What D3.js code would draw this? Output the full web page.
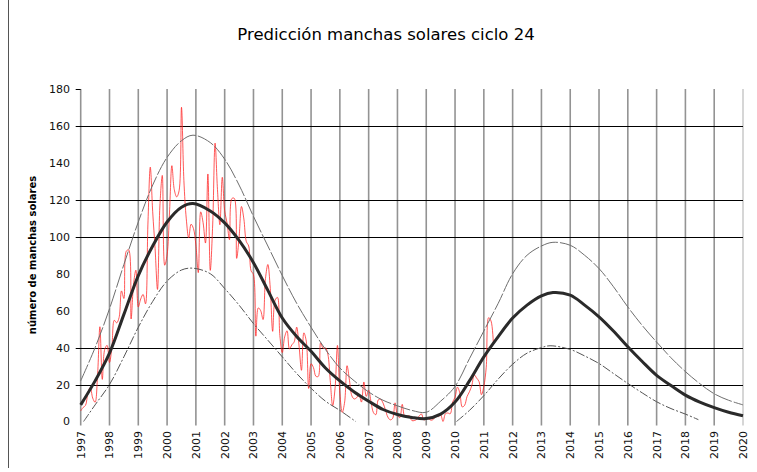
<!DOCTYPE html>
<html>
<head>
<meta charset="utf-8">
<script src="https://cdn.jsdelivr.net/npm/d3@7"></script>
<style>
  body { margin: 0; background: #fff; }
  svg { display: block; }
</style>
</head>
<body>
<svg id="chart" width="757" height="472"></svg>
<script>
// prediccion suavizada (linea negra gruesa)
var smoothYears = [1997, 1997.5, 1998, 1998.5, 1999, 1999.5, 2000, 2000.5, 2000.9, 2001.5, 2002, 2002.5,
  2003, 2003.5, 2004, 2004.5, 2005, 2005.5, 2006, 2006.5, 2007, 2007.5, 2008, 2008.5, 2009, 2009.5,
  2010, 2010.5, 2011, 2011.5, 2012, 2012.5, 2013, 2013.4, 2014, 2014.5, 2015, 2015.5, 2016, 2016.5,
  2017, 2017.5, 2018, 2018.5, 2019, 2019.5, 2020];
var smoothValues = [9, 22, 37, 58, 79, 95, 108, 116, 118, 114, 107.5, 98,
  86, 71, 56, 46, 38, 29, 22, 16, 11, 6.5, 3.8, 2.2, 1.6, 4,
  10.5, 22, 35, 46, 56, 63, 68, 69.8, 68.4, 63, 56.7, 49, 40.5, 32.5,
  25, 19.5, 14.3, 10.5, 7.5, 5, 3.1];

// limite superior
var highYears = [1997, 1997.5, 1998, 1998.5, 1999, 1999.5, 2000, 2000.5, 2000.9, 2001.5, 2002, 2002.5,
  2003, 2003.5, 2004, 2004.5, 2005, 2005.5, 2006, 2006.5, 2007, 2007.5, 2008, 2008.5, 2009, 2009.5,
  2010, 2010.5, 2011, 2011.5, 2012, 2012.5, 2013, 2013.4, 2014, 2014.5, 2015, 2015.5, 2016, 2016.5,
  2017, 2017.5, 2018, 2018.5, 2019, 2019.5, 2020];
var highValues = [22, 40, 61, 85, 108, 128, 143, 152, 155, 151, 142, 128,
  111, 95, 79, 64, 51, 39, 29, 22, 16, 11.5, 8.5, 6, 5, 11,
  19, 34, 49, 64, 80, 90, 95, 97, 95.4, 90, 82.8, 73, 62, 52,
  43, 34.5, 27, 20.5, 15, 11.5, 9];

// limite inferior (dos tramos)
var lowYears1 = [1997.1, 1997.5, 1998, 1998.5, 1999, 1999.5, 2000, 2000.5, 2000.9, 2001.5, 2002, 2002.5,
  2003, 2003.5, 2004, 2004.5, 2005, 2005.5, 2006, 2006.55];
var lowValues1 = [0, 9, 20, 35, 51, 65, 76, 82, 83, 80, 72, 63,
  53, 44, 35, 26, 18, 11, 6, 0];
var lowYears2 = [2010.05, 2010.5, 2011, 2011.5, 2012, 2012.5, 2013, 2013.3, 2014, 2014.5, 2015, 2015.5,
  2016, 2016.5, 2017, 2017.5, 2018, 2018.45];
var lowValues2 = [0, 6, 14, 23, 31, 37, 40, 41, 39, 35.5, 31.4, 26,
  20.6, 15.5, 10.7, 7, 4, 1];

// manchas solares mensuales observadas, desde enero 1997
var monthlyStart = 1997;
var monthlySpots = [
  5.7, 7.6, 8.7, 15.5, 18.5, 12.7, 10.4, 24.4, 51.3, 22.8, 39.0, 41.2,
  31.9, 40.3, 54.8, 53.4, 56.3, 70.7, 66.6, 92.2, 92.9, 55.5, 74.0, 81.9,
  62.0, 66.3, 68.8, 63.7, 106.4, 137.7, 113.5, 93.7, 71.5, 116.7, 133.2, 84.6,
  90.1, 112.9, 138.5, 125.5, 121.6, 124.9, 170.1, 130.5, 109.7, 99.4, 106.8, 104.4,
  95.6, 80.6, 113.5, 107.7, 96.6, 134.0, 81.8, 106.4, 150.7, 125.5, 106.5, 132.2,
  114.1, 107.4, 98.4, 120.7, 120.8, 88.3, 99.6, 116.4, 109.6, 97.5, 95.0, 81.6,
  79.5, 46.2, 61.5, 60.0, 55.2, 77.4, 85.0, 72.1, 48.8, 65.6, 67.2, 46.5,
  37.3, 45.8, 49.1, 39.3, 41.5, 43.2, 51.1, 40.9, 27.7, 48.0, 43.5, 17.9,
  31.3, 29.2, 24.5, 24.4, 42.6, 39.6, 39.9, 36.4, 22.1, 8.5, 18.0, 41.2,
  15.3, 4.9, 10.6, 30.2, 22.3, 13.9, 12.2, 12.9, 14.4, 10.5, 21.4, 13.6,
  16.9, 10.6, 4.8, 3.7, 11.7, 12.0, 10.0, 6.2, 2.4, 0.9, 1.7, 10.1,
  3.4, 2.1, 9.3, 2.9, 2.9, 3.1, 0.5, 0.5, 1.1, 2.9, 4.1, 0.8,
  1.5, 1.4, 0.7, 1.2, 2.9, 2.6, 3.5, 0.0, 4.2, 4.6, 4.2, 10.6,
  13.1, 18.6, 15.4, 7.9, 8.8, 13.5, 16.1, 19.6, 25.2, 23.5, 21.6, 14.5,
  19.0, 29.4, 56.2, 54.4, 41.6
];

var yearTicks = d3.range(1997, 2021);
var valueTicks = [0, 20, 40, 60, 80, 100, 120, 140, 160, 180];
var gridValues = [20, 40, 100, 120, 160];

var svg = d3.select("#chart");

var x = d3.scaleLinear().domain([1997, 2020]).range([80.7, 743]);
var y = d3.scaleLinear().domain([0, 180]).range([421.5, 89]);

function pairs(xs, ys) {
  return xs.map(function(d, i) { return [d, ys[i]]; });
}

// marco izquierdo
svg.append("line")
  .attr("x1", 8.5).attr("x2", 8.5)
  .attr("y1", 0).attr("y2", 468)
  .style("stroke", "#555")
  .style("stroke-width", 1);

// lineas verticales (años)
svg.append("g")
  .selectAll("line")
  .data(yearTicks).enter()
  .append("line")
  .attr("x1", function(d) { return x(d); })
  .attr("x2", function(d) { return x(d); })
  .attr("y1", y(180))
  .attr("y2", y(0) + 4)
  .style("stroke", function(d) { return d == 2020 ? "#cccccc" : "#939393"; })
  .style("stroke-width", 1.6);

// lineas horizontales
svg.append("g")
  .selectAll("line")
  .data(gridValues).enter()
  .append("line")
  .attr("x1", x(1997) - 5)
  .attr("x2", x(2020))
  .attr("y1", function(d) { return Math.round(y(d)) + 0.5; })
  .attr("y2", function(d) { return Math.round(y(d)) + 0.5; })
  .style("stroke", "#000")
  .style("stroke-width", 1.2);

svg.append("line")
  .attr("x1", x(1997) - 5).attr("x2", x(1997))
  .attr("y1", Math.round(y(180)) + 0.5).attr("y2", Math.round(y(180)) + 0.5)
  .style("stroke", "#000");

// etiquetas eje y
svg.append("g")
  .selectAll("text")
  .data(valueTicks).enter()
  .append("text")
  .attr("x", 70)
  .attr("y", function(d) { return y(d); })
  .attr("dy", "0.36em")
  .style("text-anchor", "end")
  .style("font-family", "DejaVu Sans, sans-serif")
  .style("font-size", "11px")
  .style("fill", "#111")
  .text(function(d) { return d; });

// etiquetas eje x (giradas)
svg.append("g")
  .selectAll("text")
  .data(yearTicks).enter()
  .append("text")
  .attr("transform", function(d) {
    return "translate(" + x(d) + "," + 431 + ") rotate(-90)";
  })
  .attr("dy", "0.36em")
  .style("text-anchor", "end")
  .style("font-family", "DejaVu Sans, sans-serif")
  .style("font-size", "11px")
  .style("fill", "#111")
  .text(function(d) { return d; });

var line = d3.line()
  .x(function(d) { return x(d[0]); })
  .y(function(d) { return y(d[1]); })
  .curve(d3.curveCatmullRom.alpha(0.5));

// datos observados
var monthly = monthlySpots.map(function(v, i) {
  return [monthlyStart + i / 12, v];
});
svg.append("path")
  .datum(monthly)
  .attr("d", line)
  .style("fill", "none")
  .style("stroke", "#ff2020")
  .style("stroke-opacity", 0.75)
  .style("stroke-width", 1);

// bandas
svg.append("path")
  .datum(pairs(highYears, highValues))
  .attr("d", line)
  .style("fill", "none")
  .style("stroke", "#6e6e6e")
  .style("stroke-width", 1)
  .style("stroke-dasharray", "18,2");

[pairs(lowYears1, lowValues1), pairs(lowYears2, lowValues2)].forEach(function(seg) {
  svg.append("path")
    .datum(seg)
    .attr("d", line)
    .style("fill", "none")
    .style("stroke", "#555")
    .style("stroke-width", 1)
    .style("stroke-dasharray", "9,2,2,2");
});

// prediccion
svg.append("path")
  .datum(pairs(smoothYears, smoothValues))
  .attr("d", line)
  .style("fill", "none")
  .style("stroke", "#2a2a2a")
  .style("stroke-width", 3)
  .style("stroke-linejoin", "round");

// titulo
svg.append("text")
  .attr("x", 386)
  .attr("y", 40)
  .style("text-anchor", "middle")
  .style("font-family", "DejaVu Sans, sans-serif")
  .style("font-size", "16.5px")
  .style("fill", "#000")
  .text("Predicción manchas solares ciclo 24");

// titulo eje y
svg.append("text")
  .attr("transform", "translate(32,255) rotate(-90)")
  .attr("dy", "0.36em")
  .style("text-anchor", "middle")
  .style("font-family", "DejaVu Sans, sans-serif")
  .style("font-size", "10px")
  .style("font-weight", "bold")
  .style("fill", "#000")
  .text("número de manchas solares");
</script>
</body>
</html>
